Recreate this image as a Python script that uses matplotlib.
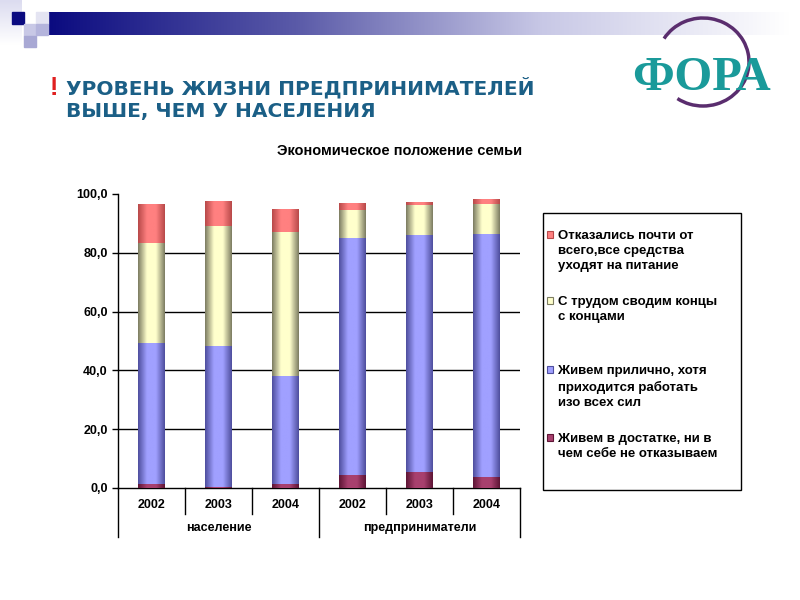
import numpy as np
import matplotlib.pyplot as plt
from matplotlib.patches import Rectangle, Arc
from matplotlib.colors import LinearSegmentedColormap

plt.rcParams['font.family'] = ['Liberation Sans', 'DejaVu Sans']

years = ['2002', '2003', '2004', '2002', '2003', '2004']
groups = ['население', 'предприниматели']

# shares of families, %, bottom to top
rich = [1.5, 0.5, 1.2, 4.4, 5.4, 3.7]
decent = [47.8, 47.8, 36.9, 80.6, 80.7, 82.7]
hard = [34.0, 40.8, 49.0, 9.6, 10.2, 10.2]
food_only = [13.3, 8.5, 7.8, 2.3, 1.0, 1.7]

labels = ['Живем в достатке, ни в\nчем себе не отказываем',
          'Живем прилично, хотя\nприходится работать\nизо всех сил',
          'С трудом сводим концы\nс концами',
          'Отказались почти от\nвсего,все средства\nуходят на питание']
series = [rich, decent, hard, food_only]
# (edge, centre) colours for the cylinder shading
shades = [('#5e1535', '#a8406e'), ('#4f4f9e', '#a0a0ff'),
          ('#7d7d62', '#ffffcc'), ('#b84a4a', '#ff8080')]

fig = plt.figure(figsize=(8, 6), dpi=100)

# slide header: gradient band and squares
hdr = fig.add_axes([0, 0, 1, 1], zorder=-5)
hdr.set_xlim(0, 800)
hdr.set_ylim(600, 0)
hdr.axis('off')
grad = np.linspace(0, 1, 256).reshape(1, -1)
band = LinearSegmentedColormap.from_list('band', ['#0b0b80', '#5a5aa8', '#c8c8e6', '#ffffff'])
hdr.imshow(grad, cmap=band, extent=(48, 790, 35, 12), aspect='auto')
hdr.imshow(np.linspace(0, 1, 50).reshape(-1, 1), cmap=LinearSegmentedColormap.from_list('v', ['#dcdcf0', '#ffffff']),
           extent=(0, 22, 45, 0), aspect='auto')
hdr.add_patch(Rectangle((12, 12), 12, 12, color='#0b0b80'))
hdr.add_patch(Rectangle((24, 24), 12, 12, color='#c8c8e6'))
hdr.add_patch(Rectangle((24, 36), 12, 11, color='#a8a8d4'))
hdr.add_patch(Rectangle((36, 12), 12, 12, color='#e4e4f2'))
hdr.add_patch(Rectangle((36, 24), 12, 11, color='#b4b4dc'))

hdr.text(50, 95, '!', color='#e02020', fontsize=18, fontweight='bold', va='baseline')
hdr.text(66, 99, 'УРОВЕНЬ ЖИЗНИ ПРЕДПРИНИМАТЕЛЕЙ\nВЫШЕ, ЧЕМ У НАСЕЛЕНИЯ',
         color='#1b5f86', fontsize=14.5, fontweight='bold', va='center', ha='left',
         linespacing=1.2, family=['DejaVu Sans'])

# logo
hdr.add_patch(Arc((703, 62), 92, 88, theta1=-149, theta2=125, color='#5a2d6e', lw=2.5))
hdr.text(702, 78, 'ФОРА', color='#1a9a9a', fontsize=35, fontweight='bold',
         ha='center', va='center', family=['Liberation Serif', 'DejaVu Serif'])

# chart
ax = fig.add_axes([118 / 800, 1 - 488 / 600, 402 / 800, 294 / 600])
x = np.arange(len(years))
bottom = np.zeros(len(years))
for vals, (edge, mid), lab in zip(series, shades, labels):
    bars = ax.bar(x, vals, width=0.4, bottom=bottom, color=mid, label=lab, zorder=2)
    cmap = LinearSegmentedColormap.from_list('c', [edge, mid, mid, edge])
    for b in bars:
        x0, y0 = b.get_x(), b.get_y()
        im = ax.imshow(np.linspace(0, 1, 64).reshape(1, -1), cmap=cmap, aspect='auto',
                       extent=(x0, x0 + b.get_width(), y0, y0 + b.get_height()), zorder=3)
        im.set_clip_path(b)
    bottom += vals

ax.set_xlim(-0.5, 5.5)
ax.set_ylim(0, 100)
ax.set_yticks(range(0, 101, 20))
ax.set_yticklabels([f'{v},0' for v in range(0, 101, 20)], fontsize=9, fontweight='bold')
for v in range(20, 100, 20):
    ax.axhline(v, color='black', lw=1, zorder=1)
ax.spines[['top', 'right']].set_visible(False)
ax.spines['left'].set_linewidth(1)
ax.spines['bottom'].set_linewidth(1)
ax.tick_params(axis='y', length=4, width=1)
ax.set_xticks([])

# two-level category axis
tr = ax.get_xaxis_transform()
for p in [0.5, 1.5, 3.5, 4.5]:
    ax.plot([p, p], [0, -0.09], color='black', lw=1, transform=tr, clip_on=False)
for p in [-0.5, 2.5, 5.5]:
    ax.plot([p, p], [0, -0.168], color='black', lw=1, transform=tr, clip_on=False)
for xi, yr in zip(x, years):
    ax.text(xi, -0.058, yr, transform=tr, ha='center', va='center', fontsize=9, fontweight='bold')
for gi, g in enumerate(groups):
    ax.text(gi * 3 + 1, -0.136, g, transform=tr, ha='center', va='center', fontsize=9, fontweight='bold')

fig.text(0.5, 1 - 151 / 600, 'Экономическое положение семьи', ha='center', va='center',
         fontsize=10.5, fontweight='bold')

# legend box
hdr.add_patch(Rectangle((543, 213), 198, 277, fill=False, ec='black', lw=1))
leg_top = [237, 303, 372, 440]
for (edge, mid), lab, yy in zip(shades[::-1], labels[::-1], leg_top):
    hdr.add_patch(Rectangle((547, yy - 6), 6, 7, color=mid, ec=edge, lw=0.8))
    hdr.text(558, yy - 7, lab, fontsize=9.5, fontweight='bold', va='top', ha='left', linespacing=1.35)

fig.savefig('out.png', dpi=100, facecolor='white')
